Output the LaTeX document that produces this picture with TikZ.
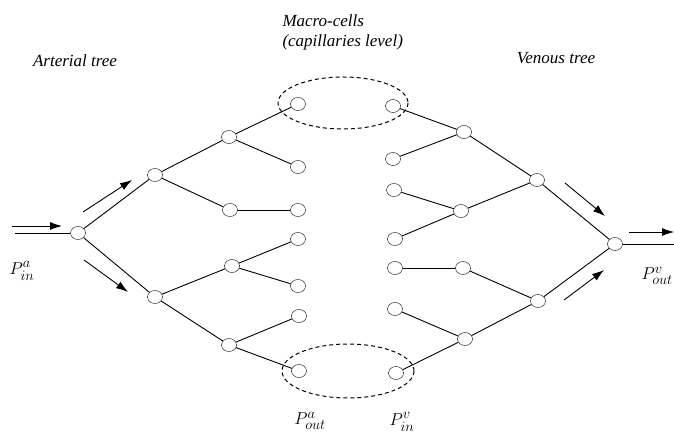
\documentclass[tikz,border=0pt]{standalone}
\usepackage{fontspec}
\setmainfont{Liberation Serif}
\usepackage{amsmath}
\usetikzlibrary{positioning, calc, arrows.meta, shapes.geometric}

\tikzset{
  cell/.style={draw, ellipse, fill=white, minimum width=15pt, minimum height=13pt, inner sep=0pt},
  vessel/.style={line width=0.9pt},
  flow/.style={line width=0.9pt, -{Latex[length=12pt,width=8pt]}},
  lbl/.style={font=\fontsize{17}{20}\selectfont\itshape},
  plbl/.style={font=\fontsize{19}{20}\selectfont},
  group/.style={dashed, line width=1pt, dash pattern=on 4pt off 3pt}
}

\begin{document}
\begin{tikzpicture}[x=1pt,y=-1pt]
      \useasboundingbox (0,0) rectangle (674,435);
      % macro-cells
      \draw[group] (343,103) ellipse[x radius=65, y radius=26];
      \draw[group] (348,371) ellipse[x radius=66, y radius=27];
      % arterial tree
      \node[cell] (ar) at (78,233) {};
      \node[cell] (a1) at (155,175) {};
      \node[cell] (a2) at (155,297) {};
      \node[cell] (a11) at (229,137) {};
      \node[cell] (a12) at (230,210) {};
      \node[cell] (a21) at (232,266) {};
      \node[cell] (a22) at (229,345) {};
      \node[cell] (a111) at (298,104) {};
      \node[cell] (a112) at (298,167) {};
      \node[cell] (a121) at (298,210) {};
      \node[cell] (a211) at (298,239) {};
      \node[cell] (a212) at (298,286) {};
      \node[cell] (a221) at (299,316) {};
      \node[cell] (a222) at (299,371) {};
      % venous tree
      \node[cell] (vr) at (615,244) {};
      \node[cell] (v1) at (537,180) {};
      \node[cell] (v2) at (538,301) {};
      \node[cell] (v11) at (464,132) {};
      \node[cell] (v12) at (461,211) {};
      \node[cell] (v21) at (463,268) {};
      \node[cell] (v22) at (465,339) {};
      \node[cell] (v111) at (393,106) {};
      \node[cell] (v112) at (393,159) {};
      \node[cell] (v121) at (394,190) {};
      \node[cell] (v122) at (395,239) {};
      \node[cell] (v211) at (395,268) {};
      \node[cell] (v221) at (395,309) {};
      \node[cell] (v222) at (396,373) {};
      % vessels
      \draw[vessel] (ar) -- (a1);
      \draw[vessel] (ar) -- (a2);
      \draw[vessel] (a1) -- (a11);
      \draw[vessel] (a1) -- (a12);
      \draw[vessel] (a2) -- (a21);
      \draw[vessel] (a2) -- (a22);
      \draw[vessel] (a11) -- (a111);
      \draw[vessel] (a11) -- (a112);
      \draw[vessel] (a12) -- (a121);
      \draw[vessel] (a21) -- (a211);
      \draw[vessel] (a21) -- (a212);
      \draw[vessel] (a22) -- (a221);
      \draw[vessel] (a22) -- (a222);
      \draw[vessel] (vr) -- (v1);
      \draw[vessel] (vr) -- (v2);
      \draw[vessel] (v1) -- (v11);
      \draw[vessel] (v1) -- (v12);
      \draw[vessel] (v2) -- (v21);
      \draw[vessel] (v2) -- (v22);
      \draw[vessel] (v11) -- (v111);
      \draw[vessel] (v11) -- (v112);
      \draw[vessel] (v12) -- (v121);
      \draw[vessel] (v12) -- (v122);
      \draw[vessel] (v21) -- (v211);
      \draw[vessel] (v22) -- (v221);
      \draw[vessel] (v22) -- (v222);
      % inlet and outlet
      \coordinate (inlet) at (15,233);
      \coordinate (outlet) at (674,244);
      \draw[vessel] (inlet) -- (ar);
      \draw[vessel] (vr) -- (outlet);
      % flow arrows
      \coordinate (f0s) at (12,226);   \coordinate (f0e) at (62,226);
      \coordinate (f1s) at (83,212);   \coordinate (f1e) at (132,180);
      \coordinate (f2s) at (84,260);   \coordinate (f2e) at (128,292);
      \coordinate (f3s) at (565,183);  \coordinate (f3e) at (605,216);
      \coordinate (f4s) at (564,300);  \coordinate (f4e) at (604,270);
      \coordinate (f5s) at (629,232);  \coordinate (f5e) at (674,232);
      \draw[flow] (f0s) -- (f0e);
      \draw[flow] (f1s) -- (f1e);
      \draw[flow] (f2s) -- (f2e);
      \draw[flow] (f3s) -- (f3e);
      \draw[flow] (f4s) -- (f4e);
      \draw[flow] (f5s) -- (f5e);
      % labels
      \node[lbl] (arterial) at (75,61) {Arterial tree};
      \node[lbl] (venous) at (556,58) {Venous tree};
      \node[lbl, align=left, anchor=west] (macro) at (279,32) {Macro-cells\\(capillaries level)};
      \node[plbl] (pina) at (22,271) {$P^{a}_{in}$};
      \node[plbl] (pouta) at (310,421) {$P^{a}_{out}$};
      \node[plbl] (pinv) at (402,422) {$P^{v}_{in}$};
      \node[plbl, anchor=east, inner xsep=1pt] (poutv) at (674,276) {$P^{v}_{out}$};
\end{tikzpicture}
\end{document}
